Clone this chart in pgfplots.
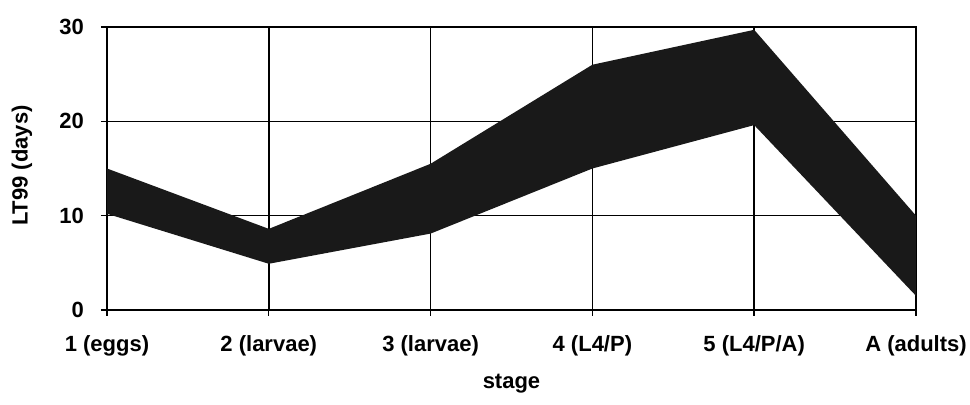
\documentclass[border=0pt]{standalone}
\usepackage{fontspec}
\setmainfont{Liberation Sans}
\usepackage{pgfplots}
\pgfplotsset{compat=1.18}
\usepgfplotslibrary{fillbetween}
\begin{document}
\begin{tikzpicture}
\begin{axis}[
  at={(0,0)}, anchor=south west,
  scale only axis,
  width=404.5pt, height=141.5pt,
  xmin=0, xmax=5, ymin=0, ymax=30,
  xtick={0,1,2,3,4,5},
  xticklabels={1 (eggs),2 (larvae),3 (larvae),4 (L4/P),5 (L4/P/A),A (adults)},
  ytick={0,10,20,30},
  grid=major,
  grid style={black, line width=0.75pt},
  axis line style={black, line width=1pt},
  tick style={black, line width=0.7pt},
  tick align=outside,
  major tick length=3pt,
  xtick pos=bottom, ytick pos=left,
  /pgf/number format/assume math mode=true,
  ticklabel style={font=\fontsize{11}{13}\selectfont\bfseries},
  xticklabel style={yshift=-6.5pt},
  yticklabel style={xshift=-5pt},
  xlabel={stage},
  ylabel={LT99 (days)},
  label style={font=\fontsize{11}{13}\selectfont\bfseries},
  xlabel style={at={(axis description cs:0.5,0)}, anchor=center, yshift=-37pt},
  ylabel style={at={(axis description cs:-0.105,0.51)}, anchor=center},
]
\addplot[name path=u, draw=none] coordinates {(0,15) (1,8.6) (2,15.5) (3,26) (4,29.7) (5,10)};
\addplot[name path=l, draw=none] coordinates {(0,10.2) (1,4.9) (2,8.1) (3,15) (4,19.6) (5,1.5)};
\addplot[fill=black!90] fill between[of=u and l];
\end{axis}
\pgfresetboundingbox
\path[use as bounding box] (-53.5pt,-47.5pt) rectangle (431.5pt,155pt);
\end{tikzpicture}
\end{document}
